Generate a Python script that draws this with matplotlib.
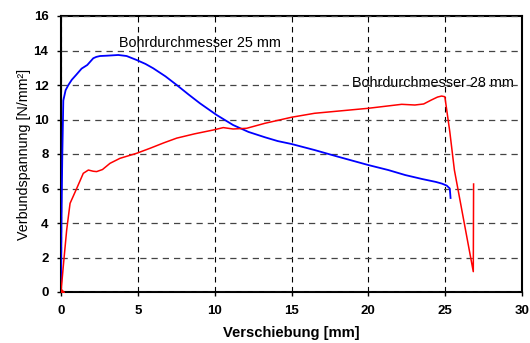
import matplotlib.pyplot as plt

plt.rcParams['font.family'] = ['Liberation Sans', 'DejaVu Sans']

# Bohrdurchmesser 25 mm (blau)
x25 = [0, 0.03, 0.08, 0.15, 0.3, 0.48, 0.7, 1.0, 1.34, 1.71, 1.9, 2.1, 2.3, 2.54, 3.0, 3.73, 4.27, 4.92,
       5.5, 6.0, 6.8, 7.53, 8.3, 9.04, 10.13, 11.2, 12.2, 13.27, 14.1, 15.0, 16.5, 18.0, 20.0, 21.3, 22.4,
       23.5, 24.4, 24.8, 25.1, 25.3, 25.35]
y25 = [0, 4.0, 7.65, 11.1, 11.7, 12.0, 12.3, 12.6, 12.95, 13.16, 13.35, 13.55, 13.63, 13.68, 13.7, 13.74,
       13.68, 13.45, 13.22, 12.97, 12.5, 12.0, 11.45, 10.94, 10.26, 9.68, 9.28, 8.97, 8.75, 8.58, 8.23,
       7.85, 7.36, 7.07, 6.78, 6.55, 6.38, 6.28, 6.17, 6.0, 5.45]

# Bohrdurchmesser 28 mm (rot)
x28 = [0, 0.15, 0.37, 0.59, 1.02, 1.45, 1.78, 2.1, 2.32, 2.7, 3.19, 3.84, 4.92, 5.79, 6.7, 7.53, 8.7,
       9.9, 10.56, 11.2, 12.08, 13.27, 15.0, 16.5, 20.0, 22.17, 23.03, 23.6, 24.1, 24.5, 24.77, 24.98,
       25.3, 25.6, 26.83, 26.85]
y28 = [0, 1.5, 3.6, 5.14, 6.0, 6.88, 7.07, 7.0, 6.98, 7.1, 7.46, 7.75, 8.04, 8.33, 8.65, 8.92, 9.17,
       9.39, 9.53, 9.45, 9.49, 9.78, 10.13, 10.36, 10.65, 10.88, 10.84, 10.9, 11.13, 11.3, 11.36, 11.32,
       9.3, 7.07, 1.18, 6.26]

xticks = [0, 5, 10, 15, 20, 25, 30]
yticks = [0, 2, 4, 6, 8, 10, 12, 14, 16]

fig = plt.figure(figsize=(5.30, 3.43), dpi=100)
ax = fig.add_axes([61 / 530, 1 - 292 / 343, 461 / 530, 276 / 343])

ax.plot(x25, y25, color='#0000ff', lw=1.3, zorder=3)
ax.plot(x28, y28, color='#ff0000', lw=1.1, zorder=3)
ax.plot([0], [0], marker='D', color='#ff0000', ms=3, zorder=4)

ax.text(3.75, 14.43, 'Bohrdurchmesser 25 mm', fontsize=10.4, va='center', ha='left', zorder=1)
ax.text(18.96, 12.1, 'Bohrdurchmesser 28 mm', fontsize=10.4, va='center', ha='left', zorder=1)

ax.set_xlim(0, 30)
ax.set_ylim(0, 16)
ax.set_xticks(xticks)
ax.set_yticks(yticks)
ax.set_axisbelow(False)
ax.xaxis.grid(True, color='black', ls=(0, (5, 4)), lw=0.8)
ax.yaxis.grid(True, color='#444444', ls=(0, (5, 4)), lw=0.9)
for lbl in ax.get_xticklabels() + ax.get_yticklabels():
    lbl.set_fontweight('bold')
    lbl.set_fontsize(9.5)
ax.tick_params(direction='out', length=3, width=1, pad=6)
for s in ax.spines.values():
    s.set_linewidth(1.5)

ax.set_xlabel('Verschiebung [mm]', fontsize=10.6, fontweight='bold', labelpad=7)
ax.set_ylabel('Verbundspannung [N/mm²]', fontsize=10.3, labelpad=2)

plt.savefig('out.png', dpi=100)
